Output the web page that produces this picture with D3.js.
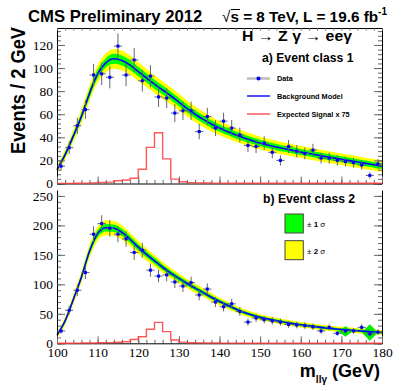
<!DOCTYPE html>
<html lang="en">
<head>
<meta charset="utf-8">
<title>H to Z gamma, ee channel</title>
<script src="https://cdn.jsdelivr.net/npm/d3@7"></script>
<style>
  body { margin: 0; background: #fff; }
  text { font-family: "Liberation Sans", Arial, sans-serif; }
  .tick text { font-family: "Liberation Serif", "Times New Roman", serif; font-size: 13.5px; fill: #000; }
</style>
</head>
<body>
<svg width="402" height="391" id="mainsvg"></svg>
<script>
// 2 GeV bins, centres 101 ... 179
const binCentres = d3.range(101, 180, 2);
// mass points where the background model / bands were read
const modelMass = d3.range(100, 181, 2);

// ---- event class 1 ----
const dataA = [15, 31, 50, 64, 94, 95, 92, 119, 94, 107, 89, 93, 75, 74, 61, 63, 63, 45, 58, 48,
               54, 48, 42, 33, 32, 35, 27, 20, 32, 28, 26, 29, 22, 22, 20, 19, 18, 16, 7, 17];
const modelA = [12, 25, 41, 58, 78, 95, 104.5, 108, 106.5, 102.5, 97, 91.5, 86, 81, 76, 70.5, 65, 60, 55.5, 51.5,
                48, 45, 42, 39.5, 37.2, 35, 33.2, 31.6, 30.1, 28.7, 27.3, 26, 24.7, 23.4, 22.2, 21, 19.8, 18.6, 17.4, 16.2, 15];
const band1A = [1.7, 2.1, 2.5, 2.9, 3.4, 3.8, 4.1, 4.3, 4.3, 4.2, 4.1, 4.0, 3.9, 3.8, 3.7, 3.6, 3.5, 3.4, 3.3, 3.2,
                3.1, 3.0, 2.95, 2.9, 2.85, 2.8, 2.75, 2.7, 2.7, 2.65, 2.6, 2.6, 2.55, 2.55, 2.5, 2.5, 2.5, 2.5, 2.5, 2.5, 2.5];
const signalA = [0.1, 0.1, 0.2, 0.3, 0.5, 1.0, 1.2, 2.4, 3.0, 4.5, 12.3, 31.3, 44, 21.3, 3.8, 1.5, 0.8, 0.5, 0.4, 0.3,
                 0.3, 0.2, 0.2, 0.2, 0.2, 0.2, 0.2, 0.2, 0.2, 0.2, 0.2, 0.2, 0.2, 0.2, 0.2, 0.2, 0.2, 0.2, 0.2, 0.2];

// ---- event class 2 ----
const dataB = [21, 56, 90, 120, 185, 203, 195, 185, 177, 154, 158, 124, 114, 116, 104, 97, 103, 82, 92, 70,
               62, 67, 54, 36, 43, 40, 38, 36, 32, 31, 30, 28, 21, 27, 17, 21, 21, 27, 16, 19];
const modelB = [14, 38, 74, 112, 156, 186, 196, 195, 188, 176, 163, 151, 140, 129, 119, 110, 101.5, 93.5, 86, 78,
                71, 64.5, 58, 52.5, 48, 44, 41, 38.3, 35.8, 33.5, 31.4, 29.5, 27.8, 26.2, 24.8, 23.5, 22.3, 21.2, 20.2, 19.2, 18.3];
const band1B = [2.5, 3.2, 4, 4.8, 5.5, 6, 6.3, 6.3, 6.1, 5.8, 5.5, 5.2, 4.9, 4.6, 4.4, 4.2, 4, 3.8, 3.6, 3.4,
                3.2, 3, 2.9, 2.8, 2.7, 2.6, 2.5, 2.45, 2.4, 2.35, 2.3, 2.3, 2.25, 2.2, 2.2, 2.2, 2.2, 2.2, 2.2, 2.2, 2.2];
const signalB = [0.1, 0.2, 0.3, 0.4, 0.6, 0.9, 1.2, 1.8, 2.7, 6.5, 11.2, 23.8, 35.5, 19.8, 5.5, 2.0, 1.0, 0.7, 0.5, 0.4,
                 0.3, 0.3, 0.3, 0.2, 0.2, 0.2, 0.2, 0.2, 0.2, 0.2, 0.2, 0.2, 0.2, 0.2, 0.2, 0.2, 0.2, 0.2, 0.2, 0.2];
// the two green spikes the band drawing leaves at high mass in class 2
const bandSpikesB = [{ m: 171, dm: 1.8, lo: 11, hi: 29 }, { m: 177, dm: 2, lo: 4.5, hi: 32.5 }];

const xTicks = d3.range(100, 181, 10);
const xMinor = d3.range(100, 181, 2);

const svg = d3.select('#mainsvg');
const xScale = d3.scaleLinear().domain([100, 180]).range([57, 382]);

const panels = [
  { data: dataA, model: modelA, band: band1A, signal: signalA, spikes: [],
    yScale: d3.scaleLinear().domain([0, 134.7]).range([183.5, 28]),
    yMajor: d3.range(0, 121, 20), yMinor: d3.range(0, 135, 4), xLabels: false, top: true },
  { data: dataB, model: modelB, band: band1B, signal: signalB, spikes: bandSpikesB,
    yScale: d3.scaleLinear().domain([0, 260]).range([343.3, 190]),
    yMajor: d3.range(0, 251, 50), yMinor: d3.range(0, 260, 10), xLabels: true, top: false }
];

panels.forEach(p => {
  const y = p.yScale;
  const g = svg.append('g');

  // bands
  const band = k => d3.area()
    .x((d, i) => xScale(modelMass[i]))
    .y0((d, i) => y(p.model[i] - k * p.band[i]))
    .y1((d, i) => y(p.model[i] + k * p.band[i]))
    .curve(d3.curveMonotoneX);
  g.append('path').datum(p.model).attr('d', band(2)).attr('fill', '#ffff00');
  g.append('path').datum(p.model).attr('d', band(1)).attr('fill', '#00ff00');
  g.selectAll('.spike').data(p.spikes).enter().append('path')
    .attr('d', s => {
      const mid = (s.lo + s.hi) / 2;
      return `M${xScale(s.m - s.dm)},${y(mid)}L${xScale(s.m)},${y(s.hi)}L${xScale(s.m + s.dm)},${y(mid)}L${xScale(s.m)},${y(s.lo)}Z`;
    })
    .attr('fill', '#00ee00');

  // background model
  g.append('path').datum(p.model)
    .attr('d', d3.line().x((d, i) => xScale(modelMass[i])).y(d => y(d)).curve(d3.curveMonotoneX))
    .attr('fill', 'none').attr('stroke', '#0000ff').attr('stroke-width', 1.6);

  // axes
  const ax = g.append('g');
  const tickStroke = sel => { sel.selectAll('.tick line').attr('stroke', '#666'); sel.select('.domain').attr('stroke', '#000'); };
  ax.append('g').attr('transform', `translate(57,0)`)
    .call(d3.axisLeft(y).tickValues(p.yMinor).tickSize(-4).tickFormat('')).call(tickStroke)
    .select('.domain').remove();
  ax.append('g').attr('transform', `translate(57,0)`)
    .call(d3.axisLeft(y).tickValues(p.yMajor).tickSizeInner(-8).tickSizeOuter(0).tickPadding(4)).call(tickStroke);
  ax.append('g').attr('transform', `translate(382,0)`)
    .call(d3.axisRight(y).tickValues(p.yMinor).tickSize(-4).tickFormat('')).call(tickStroke)
    .select('.domain').remove();
  ax.append('g').attr('transform', `translate(382,0)`)
    .call(d3.axisRight(y).tickValues(p.yMajor).tickSizeInner(-8).tickSizeOuter(0).tickFormat('')).call(tickStroke);
  ax.append('g').attr('transform', `translate(0,${y(0)})`)
    .call(d3.axisBottom(xScale).tickValues(xMinor).tickSize(-3.5).tickFormat('')).call(tickStroke)
    .select('.domain').remove();
  ax.append('g').attr('transform', `translate(0,${y(0)})`)
    .call(d3.axisBottom(xScale).tickValues(xTicks).tickSizeInner(-7).tickSizeOuter(0).tickPadding(4)
      .tickFormat(p.xLabels ? d3.format('d') : ''))
    .call(tickStroke);
  if (p.top) {
    ax.append('g').attr('transform', `translate(0,${y.range()[1]})`)
      .call(d3.axisTop(xScale).tickValues(xMinor).tickSizeInner(-2.5).tickSizeOuter(0).tickFormat('')).call(tickStroke);
  }

  // expected signal x 75
  const edges = p.signal.map((d, i) => [100 + 2 * i, d]).concat([[180, p.signal[p.signal.length - 1]]]);
  g.append('path').datum(edges)
    .attr('d', d3.line().x(d => xScale(d[0])).y(d => y(d[1])).curve(d3.curveStepAfter))
    .attr('fill', 'none').attr('stroke', '#ff3b3b').attr('stroke-width', 1.4).attr('opacity', 0.85);

  // data
  const pts = g.append('g').selectAll('g').data(p.data).enter().append('g');
  pts.append('line')
    .attr('x1', (d, i) => xScale(binCentres[i] - 1)).attr('x2', (d, i) => xScale(binCentres[i] + 1))
    .attr('y1', d => y(d)).attr('y2', d => y(d));
  pts.append('line')
    .attr('x1', (d, i) => xScale(binCentres[i])).attr('x2', (d, i) => xScale(binCentres[i]))
    .attr('y1', d => y(d - Math.sqrt(d))).attr('y2', d => y(d + Math.sqrt(d)));
  pts.selectAll('line').attr('stroke', '#666').attr('stroke-width', 1);
  pts.append('rect')
    .attr('x', (d, i) => xScale(binCentres[i]) - 1.5).attr('y', d => y(d) - 1.5)
    .attr('width', 3).attr('height', 3).attr('fill', '#0000ff');
});

// titles
svg.append('text').text('CMS Preliminary 2012')
  .attr('x', 28).attr('y', 22).attr('font-size', 16.7).attr('font-weight', 'bold');
const lumi = svg.append('text').attr('x', 222).attr('y', 22).attr('font-size', 15.3).attr('font-weight', 'bold');
lumi.append('tspan').text('√').attr('font-weight', 'normal');
lumi.append('tspan').text('s = 8 TeV, L = 19.6 fb');
lumi.append('tspan').text('-1').attr('font-size', 10).attr('dy', -7);
svg.append('line').attr('x1', 231).attr('x2', 240).attr('y1', 9.5).attr('y2', 9.5).attr('stroke', '#000').attr('stroke-width', 1);

svg.append('text').text('Events / 2 GeV')
  .attr('transform', 'translate(25,27) rotate(-90)')
  .attr('text-anchor', 'end').attr('font-size', 20).attr('font-weight', 'bold')
  .attr('textLength', 127).attr('lengthAdjust', 'spacingAndGlyphs');

const xt = svg.append('text').attr('x', 380).attr('y', 377).attr('text-anchor', 'end')
  .attr('font-size', 18).attr('font-weight', 'bold');
xt.append('tspan').text('m');
xt.append('tspan').text('llγ').attr('font-size', 10).attr('dy', 6);
xt.append('tspan').text(' (GeV)').attr('dy', -6);

// legend, class 1
svg.append('text').text('H → Z γ → eeγ')
  .attr('x', 242).attr('y', 41).attr('font-size', 15).attr('font-weight', 'bold')
  .attr('textLength', 110).attr('lengthAdjust', 'spacingAndGlyphs');
svg.append('text').text('a) Event class 1')
  .attr('x', 262).attr('y', 62).attr('font-size', 12.2).attr('font-weight', 'bold');

const legendRows = [
  { label: 'Data', y: 78.5, stroke: '#bbb', width: 2.5, dot: true },
  { label: 'Background Model', y: 96, stroke: '#0000ff', width: 1.4, dot: false },
  { label: 'Expected Signal x 75', y: 114, stroke: '#ff8080', width: 2, dot: false }
];
const leg = svg.selectAll('.legrow').data(legendRows).enter().append('g')
  .attr('class', 'legrow').attr('transform', d => `translate(0,${d.y})`);
leg.append('line').attr('x1', 247).attr('x2', 270)
  .attr('stroke', d => d.stroke).attr('stroke-width', d => d.width);
leg.filter(d => d.dot).append('circle').attr('cx', 258.5).attr('r', 2).attr('fill', '#0000ff');
leg.append('text').text(d => d.label).attr('x', 277).attr('y', 2.7)
  .attr('font-size', 7.3).attr('font-weight', 'bold');

// legend, class 2
svg.append('text').text('b) Event class 2')
  .attr('x', 263).attr('y', 202.5).attr('font-size', 12.2).attr('font-weight', 'bold');
const sigmaRows = [{ n: '1', fill: '#00ff00', y: 214 }, { n: '2', fill: '#ffff00', y: 240.7 }];
const sg = svg.selectAll('.sigrow').data(sigmaRows).enter().append('g')
  .attr('transform', d => `translate(0,${d.y})`);
sg.append('rect').attr('x', 285).attr('width', 18.3).attr('height', 19)
  .attr('fill', d => d.fill).attr('stroke', '#444').attr('stroke-width', 1);
const st = sg.append('text').attr('x', 307).attr('y', 13).attr('font-size', 8);
st.append('tspan').text('± ');
st.append('tspan').text(d => d.n).attr('font-weight', 'bold');
st.append('tspan').text(' σ');
</script>
</body>
</html>
